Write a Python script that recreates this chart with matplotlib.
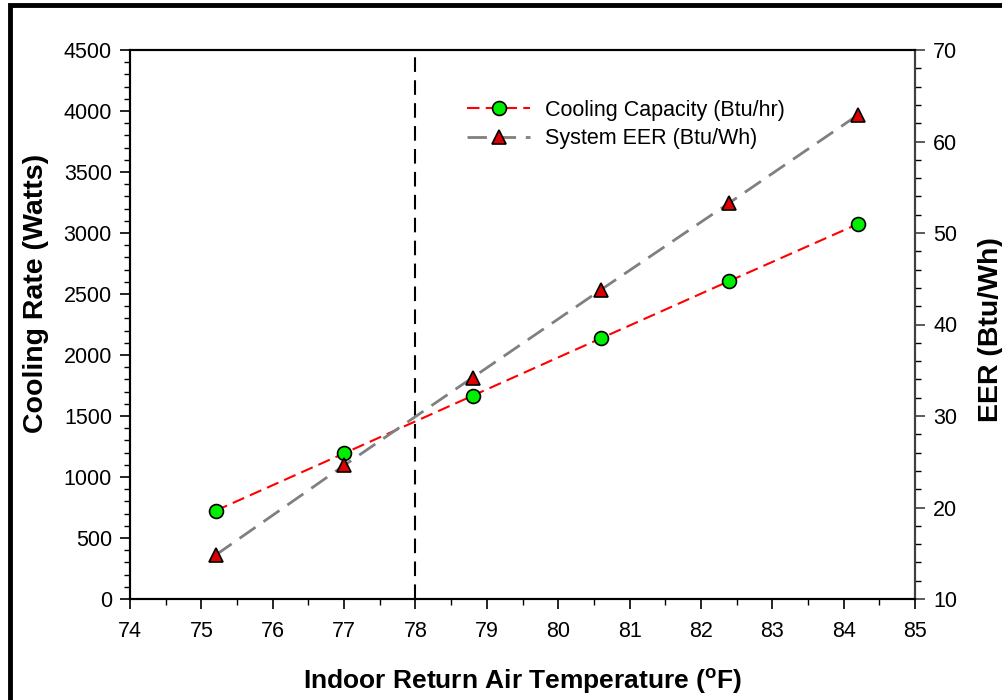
import matplotlib
matplotlib.use("Agg")
import matplotlib.pyplot as plt
from matplotlib.ticker import MultipleLocator
from matplotlib.patches import Rectangle

plt.rcParams['font.family'] = ['Liberation Sans', 'DejaVu Sans']

temps = [75.2, 77.0, 78.8, 80.6, 82.4, 84.2]
cooling_watts = [724, 1194, 1666, 2137, 2607, 3074]
system_eer = [14.8, 24.6, 34.2, 43.8, 53.3, 62.9]
design_temp = 78

fig = plt.figure(figsize=(10.03, 7.0), dpi=100)
ax = fig.add_axes([130 / 1003, 1 - 599 / 700, 785 / 1003, 549 / 700])
ax2 = ax.twinx()

ax.plot(temps, cooling_watts, color='red', linestyle=(0, (6, 3)), linewidth=1.5,
        marker='o', markersize=10, markerfacecolor='#00ee00', markeredgecolor='black',
        markeredgewidth=1.2, label='Cooling Capacity (Btu/hr)', zorder=3)
ax2.plot(temps, system_eer, color='#808080', linestyle=(0, (7, 3.5)), linewidth=2,
         marker='^', markersize=10, markerfacecolor='#dd0000', markeredgecolor='black',
         markeredgewidth=1.2, label='System EER (Btu/Wh)', zorder=3)
ax.axvline(design_temp, color='black', linestyle=(0, (7, 4)), linewidth=1.5)

ax.set_xlim(74, 85)
ax.set_ylim(0, 4500)
ax2.set_ylim(10, 70)

ax.xaxis.set_major_locator(MultipleLocator(1))
ax.xaxis.set_minor_locator(MultipleLocator(0.5))
ax.yaxis.set_major_locator(MultipleLocator(500))
ax.yaxis.set_minor_locator(MultipleLocator(100))
ax2.yaxis.set_major_locator(MultipleLocator(10))
ax2.yaxis.set_minor_locator(MultipleLocator(2))

for a in (ax, ax2):
    a.tick_params(which='major', direction='out', length=7, width=1.2, labelsize=15.5, pad=6)
    a.tick_params(which='minor', direction='out', length=4, width=1.0)
ax.tick_params(axis='x', pad=9)
ax2.tick_params(axis='y', colors='#404040', labelcolor='black')

for s in ax.spines.values():
    s.set_linewidth(1.5)
for s in ax2.spines.values():
    s.set_linewidth(1.5)
ax2.spines['right'].set_color('#404040')

ax.set_xlabel('Indoor Return Air Temperature ($\\mathregular{^{o}}$F)', fontsize=19,
              fontweight='bold', labelpad=18)
ax.set_ylabel('Cooling Rate (Watts)', fontsize=20.5, fontweight='bold')
ax.yaxis.set_label_coords(-0.103, 0.556)
ax2.set_ylabel('EER (Btu/Wh)', fontsize=20.5, fontweight='bold')
ax2.yaxis.set_label_coords(1.080, 0.49)

h1, l1 = ax.get_legend_handles_labels()
h2, l2 = ax2.get_legend_handles_labels()
ax2.legend(h1 + h2, l1 + l2, loc='upper left', bbox_to_anchor=(0.416, 0.929),
           frameon=False, fontsize=15.5, handlelength=2.9, handletextpad=0.7,
           labelspacing=0.35, borderpad=0)

fig.add_artist(Rectangle((10 / 1003, -0.1), 1.2, 0.1 + 1 - 5 / 700, transform=fig.transFigure,
                         fill=False, edgecolor='black', linewidth=3.5))

fig.savefig('out.png', dpi=100)
